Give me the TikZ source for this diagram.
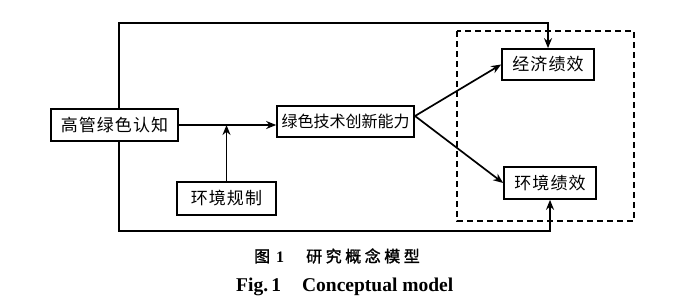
\documentclass[tikz,border=0pt]{standalone}
\usepackage{fontspec}
\setmainfont{Liberation Serif}
\newfontfamily\cjk[LetterSpace=6]{Noto Sans CJK SC}
\newfontfamily\cjkt{Noto Sans CJK SC}
\newfontfamily\cjkc[LetterSpace=22,FakeBold=1.5]{Noto Sans CJK SC}
\usetikzlibrary{arrows.meta,calc}
\begin{document}
\begin{tikzpicture}[x=1pt,y=-1pt,
  box/.style={draw,line width=1.7pt,inner sep=0pt,font=\cjk\fontsize{17}{17}\selectfont},
  conn/.style={line width=1.7pt},
  arr/.style={conn,-{Stealth[length=10pt,width=8pt]}}]
\useasboundingbox (0,0) rectangle (700,297);
\node[box,minimum width=127pt,minimum height=32pt] (a) at (114.5,125) {高管绿色认知};
\node[box,minimum width=137pt,minimum height=31pt,font=\cjkt\fontsize{16}{16}\selectfont] (b) at (345.5,121.5) {绿色技术创新能力};
\node[box,minimum width=99pt,minimum height=33pt] (c) at (226.5,198.5) {环境规制};
\node[box,minimum width=92pt,minimum height=31pt] (d) at (548,64.5) {经济绩效};
\node[box,minimum width=92pt,minimum height=32pt] (e) at (550,183) {环境绩效};
\draw[line width=1.7pt,dash pattern=on 6pt off 4pt] (457,31) rectangle (634,221);
\coordinate (tl) at (119,23);
\coordinate (bl) at (119,231);
\coordinate (bo) at (415,116);
\draw[arr] (a.north -| tl) -- (tl) -| (d.north);
\draw[arr] (a.south -| bl) -- (bl) -| (e.south);
\draw[arr] (a.east) -- (a.east -| b.west);
\draw[arr] (c.north) -- (c.north |- a.east);
\draw[arr] (bo) -- (d.west);
\draw[arr] (bo) -- (e.west);
\node[anchor=west,inner sep=0pt,font=\cjkc\fontsize{16}{16}\selectfont] (cap1) at (254,256) {图\hspace{6pt}{\fontspec{Liberation Serif}\bfseries 1}\hspace{22pt}研究概念模型};
\node[anchor=west,inner sep=0pt,font=\bfseries\fontsize{19.5}{19.5}\selectfont] (cap2) at (236,287) {Fig.\,1\hspace{21pt}Conceptual model};
\end{tikzpicture}
\end{document}
